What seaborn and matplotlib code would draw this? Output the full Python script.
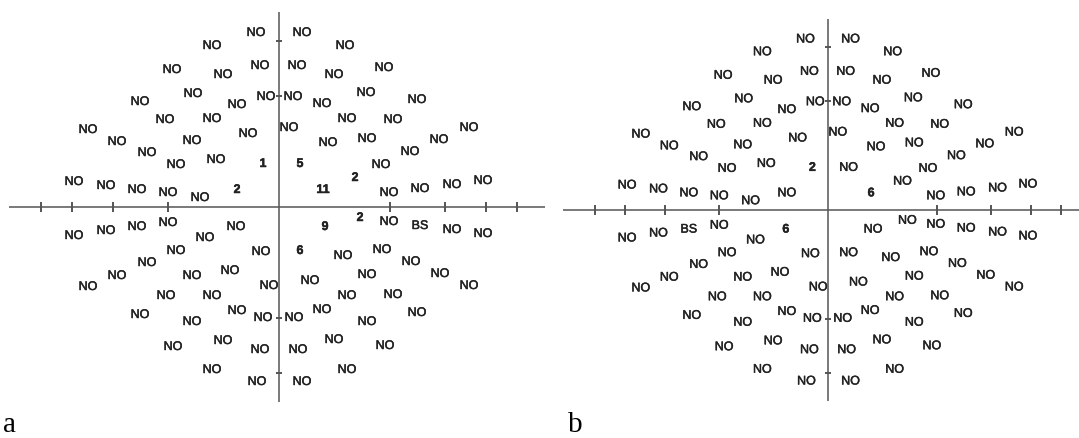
import numpy as np
import pandas as pd
import seaborn as sns
import matplotlib.pyplot as plt
import matplotlib.patheffects as pe

sns.set_theme(style='white')
plt.rcParams['font.family'] = ['Liberation Sans', 'DejaVu Sans']

N = 'NO'

# test point locations (same grid in both fields), quadrants UL, UR, LL, LR
field_x = [-23, -67, -107, -56, -19, -86, -139, -42, -13, -114, -67, -191, -162, -87, -31, -132, -103, -63, -16, -205, -173, -142, -111, -79, -42,
           23, 66, 18, 55, 105, 14, 43, 87, 138, 68, 114, 10, 49, 88, 160, 190, 131, 21, 102, 76, 44, 110, 141, 173, 204,
           -205, -173, -142, -111, -74, -43, -103, -18, -132, -162, -191, -87, -49, -10, -113, -67, -139, -87, -42, -16, -106, -56, -19, -67, -22,
           46, 81, 110, 141, 173, 204, 21, 64, 103, 132, 31, 88, 161, 190, 68, 114, 43, 15, 88, 138, 19, 55, 106, 68, 23]
field_y = [174, 161, 137, 132, 141, 113, 105, 102, 110, 87, 88, 77, 65, 66, 73, 54, 42, 47, 43, 25, 21, 17, 14, 9, 17,
           174, 161, 141, 132, 139, 110, 103, 114, 107, 88, 87, 79, 64, 68, 67, 79, 55, 43, 42, 29, 17, 14, 18, 22, 26,
           -29, -24, -20, -16, -31, -20, -44, -45, -56, -69, -80, -69, -64, -79, -89, -89, -108, -115, -104, -111, -140, -134, -143, -163, -175,
           -20, -11, -15, -19, -23, -27, -44, -49, -43, -55, -74, -68, -67, -79, -89, -88, -103, -111, -115, -106, -143, -133, -139, -163, -175]

labels_a = [N, N, N, N, N, N, N, N, N, N, N, N, N, N, N, N, N, N, '1', N, N, N, N, N, '2',
            N, N, N, N, N, N, N, N, N, N, N, N, N, N, N, N, N, '5', N, '2', '11', N, N, N, N,
            N, N, N, N, N, N, N, N, N, N, N, N, N, N, N, N, N, N, N, N, N, N, N, N, N,
            '9', '2', N, 'BS', N, N, '6', N, N, N, N, N, N, N, N, N, N, N, N, N, N, N, N, N, N]
labels_b = [N, N, N, N, N, N, N, N, N, N, N, N, N, N, N, N, N, N, '2', N, N, N, N, N, N,
            N, N, N, N, N, N, N, N, N, N, N, N, N, N, N, N, N, N, N, N, '6', N, N, N, N,
            N, N, 'BS', N, N, '6', N, N, N, N, N, N, N, N, N, N, N, N, N, N, N, N, N, N, N,
            N, N, N, N, N, N, N, N, N, N, N, N, N, N, N, N, N, N, N, N, N, N, N, N, N]

h_ticks = [-238, -207, -166, -111, 111, 166, 207, 238]
v_ticks = [-166, -111, 111, 166]

W, H = 1079, 439
fig = plt.figure(figsize=(W / 100, H / 100), dpi=100)


def draw_field(ax, labels):
    line_col = '#555555'
    txt_col = '#222222'
    ax.plot([-270, 266], [0, 0], color=line_col, lw=1.1, solid_capstyle='butt')
    ax.plot([0, 0], [-195, 195], color=line_col, lw=1.1, solid_capstyle='butt')
    sns.scatterplot(x=h_ticks, y=[0] * len(h_ticks), marker='|', s=55,
                    color=line_col, linewidth=1.4, ax=ax, legend=False)
    sns.scatterplot(x=[0] * len(v_ticks), y=v_ticks, marker='_', s=25,
                    color=line_col, linewidth=1.4, ax=ax, legend=False)
    df = pd.DataFrame({'x': field_x, 'y': field_y, 'label': labels})
    for _, r in df.iterrows():
        bold = r['label'].isdigit()
        ax.text(r['x'], r['y'], r['label'], ha='center', va='center',
                fontsize=9, color=txt_col,
                fontweight='bold' if bold else 'normal',
                path_effects=[pe.withStroke(linewidth=0.35, foreground=txt_col)])


# field a (left)
ax_a = fig.add_axes([0, 0, 550 / W, 1])
draw_field(ax_a, labels_a)
ax_a.set_xlim(-279, 271)
ax_a.set_ylim(-231, 208)
ax_a.axis('off')

# field b (right), printed slightly smaller
sc = 0.98
ax_b = fig.add_axes([550 / W, 0, 529 / W, 1])
draw_field(ax_b, labels_b)
ax_b.set_xlim(-(828 - 550) / sc, (1079 - 828) / sc)
ax_b.set_ylim(-(439 - 211) / sc, 211 / sc)
ax_b.axis('off')

fig.text(3 / W, 1 - 432 / H, 'a', fontsize=21, family='Liberation Serif',
         va='baseline', ha='left', color='black')
fig.text(568 / W, 1 - 432 / H, 'b', fontsize=21, family='Liberation Serif',
         va='baseline', ha='left', color='black')

plt.savefig('out.png', dpi=100)
